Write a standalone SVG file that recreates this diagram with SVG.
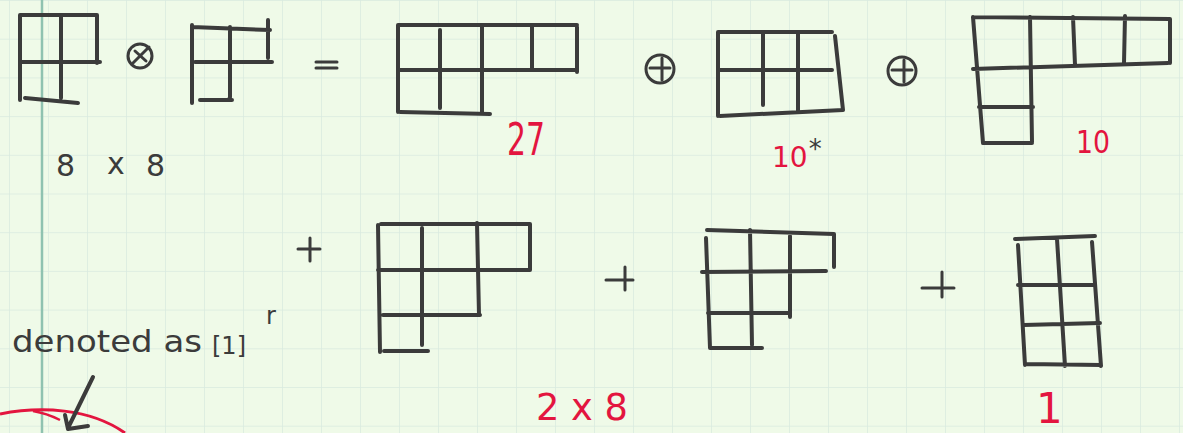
<svg xmlns="http://www.w3.org/2000/svg" width="1183" height="433" viewBox="0 0 1183 433">
  <defs>
    <pattern id="grid" patternUnits="userSpaceOnUse" x="9" y="0" width="39" height="38.7">
      <path d="M0,0 V38.7 M0,0 H39" fill="none" stroke="#d9eadf" stroke-width="1.5"/>
    </pattern>
    <style>
      .ink { fill: none; stroke: #3b3b3b; stroke-width: 4; stroke-linecap: round; stroke-linejoin: round; }
      .op { fill: none; stroke: #3b3b3b; stroke-width: 3; stroke-linecap: round; }
      .red { fill: #e3153f; font-family: "DejaVu Sans", sans-serif; }
      .blk { fill: #3b3b3b; font-family: "DejaVu Sans", sans-serif; }
    </style>
  </defs>
  <rect width="1183" height="433" fill="#effae8"/>
  <rect width="1183" height="433" fill="url(#grid)"/>
  <line x1="42" y1="0" x2="42" y2="433" stroke="#8fc2b0" stroke-width="2.5"/>

  <g id="tableau-a">
    <path class="ink" d="M20,15 H97 M20,15 V100 M61,15 V98 M97,15 V63 M20,62 H100 M25,98 L78,103"/>
    <text class="blk" font-size="30"><tspan x="56" y="176">8</tspan><tspan x="107" y="174">x</tspan><tspan x="146" y="176">8</tspan></text>
  </g>

  <g id="op-times">
    <circle class="op" cx="140" cy="56" r="12"/>
    <path class="op" d="M133,63 L149,47 M135,51 L146,61"/>
  </g>

  <g id="tableau-b">
    <path class="ink" d="M192,27 L270,30 M192,25 V103 M230,27 V97 Q230,100 227,100 M268,20 V58 M195,62 H272 M200,100 H232"/>
  </g>

  <g id="op-equals">
    <path class="op" d="M316,62 H337 M316,68 H337"/>
  </g>

  <g id="tableau-27">
    <path class="ink" d="M398,25 H577 M398,25 V112 M440,30 V108 M482,27 V113 M532,27 V70 M577,27 V72 M398,70 H577 M400,112 L490,114"/>
    <text class="red" x="507" y="155" font-size="44" textLength="38" lengthAdjust="spacingAndGlyphs">27</text>
  </g>

  <g id="op-plus-1">
    <circle class="op" cx="660" cy="69" r="14"/>
    <path class="op" d="M650,68 H670 M662,58 V80"/>
  </g>

  <g id="tableau-10star">
    <path class="ink" d="M718,32 H832 M718,32 V116 M763,32 V105 M798,32 V112 M835,36 L843,110 M718,70 H832 M720,116 L843,110"/>
    <text class="red" x="772" y="167" font-size="28">10<tspan class="blk" dx="1" dy="-9" font-size="26">*</tspan></text>
  </g>

  <g id="op-plus-2">
    <circle class="op" cx="902" cy="71" r="14"/>
    <path class="op" d="M892,70 H912 M904,60 V82"/>
  </g>

  <g id="tableau-10">
    <path class="ink" d="M973,17 L1170,19 M973,69 L1168,63 M1170,19 V63 M1030,17 L1032,142 M1073,17 L1075,65 M1125,16 L1124,63 M973,17 L983,143 M979,107 H1033 M983,143 H1032"/>
    <text class="red" x="1076" y="153" font-size="32" textLength="34" lengthAdjust="spacingAndGlyphs">10</text>
  </g>

  <g id="op-plus-3">
    <path class="op" d="M298,249 H320 M310,238 V261"/>
  </g>

  <g id="tableau-321-a">
    <path class="ink" d="M381,224 L530,224 M378,225 L380,352 M422,228 V345 M477,223 L479,315 M530,224 V270 M378,270 H530 M383,315 H480 M384,351 H428"/>
  </g>

  <g id="op-plus-4">
    <path class="op" d="M606,280 H633 M625,267 V290"/>
  </g>

  <g id="tableau-321-b">
    <path class="ink" d="M707,230 L834,234 M706,238 L710,348 M750,230 L752,345 M790,236 V317 M834,234 V267 M702,272 L826,271 M708,313 H790 M710,348 H762"/>
    <text class="red" x="536" y="420" font-size="38" textLength="92" lengthAdjust="spacingAndGlyphs">2 x 8</text>
  </g>

  <g id="op-plus-5">
    <path class="op" d="M922,288 H954 M942,272 V297"/>
  </g>

  <g id="tableau-222">
    <path class="ink" d="M1015,239 L1095,236 M1018,245 L1025,365 M1057,239 L1065,366 M1092,242 L1101,366 M1018,285 H1094 M1024,325 L1100,323 M1025,364 L1101,365"/>
    <text class="red" x="1036" y="423" font-size="42">1</text>
  </g>

  <g id="note">
    <text class="blk" x="12" y="352" font-size="30" textLength="190" lengthAdjust="spacingAndGlyphs">denoted as</text>
    <text class="blk" x="212" y="354" font-size="24">[1]</text>
    <text class="blk" x="266" y="324" font-size="24">r</text>
    <path d="M0,414 C40,406 90,408 125,433" fill="none" stroke="#e3153f" stroke-width="3"/>
    <path d="M33,411 C45,413 52,416 60,420" fill="none" stroke="#e3153f" stroke-width="2.5"/>
  </g>

  <g id="connectors">
    <path class="ink" d="M93,377 L68,428 M65,415 L68,429 L88,426"/>
  </g>
</svg>
